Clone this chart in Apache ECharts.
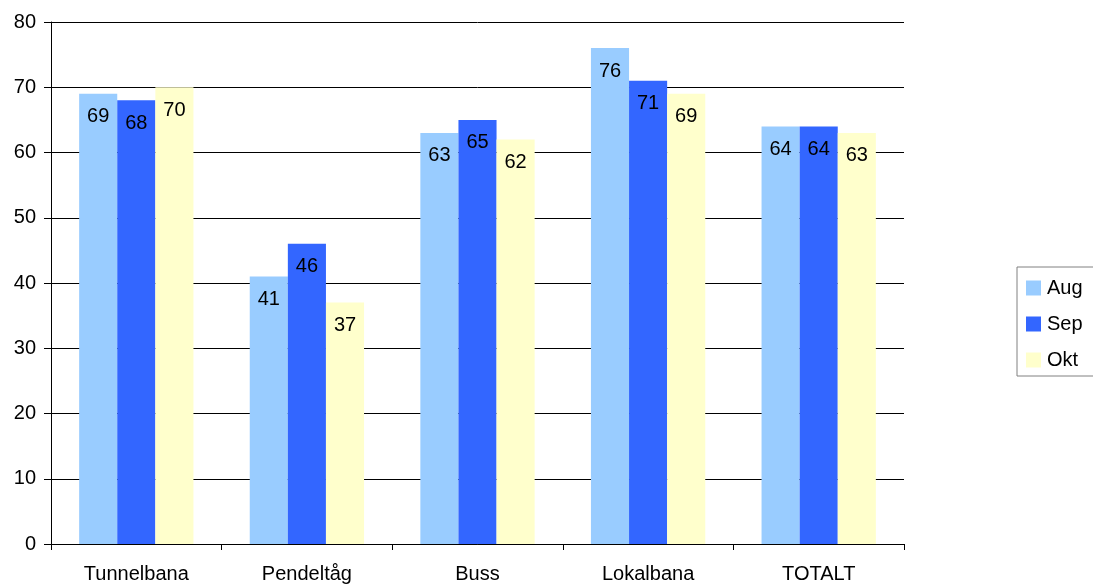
<!DOCTYPE html>
<html>
<head>
<meta charset="utf-8">
<script src="https://cdn.jsdelivr.net/npm/echarts@6/dist/echarts.min.js"></script>
<style>
  html, body { margin: 0; padding: 0; background: #fff; }
  #chart { width: 1093px; height: 585px; }
</style>
</head>
<body>
<div id="chart"></div>
<script>
// data
const categories = ['Tunnelbana', 'Pendeltåg', 'Buss', 'Lokalbana', 'TOTALT'];
const aug = [69, 41, 63, 76, 64];
const sep = [68, 46, 65, 71, 64];
const okt = [70, 37, 62, 69, 63];

const font = 'Liberation Sans, Arial, sans-serif';

const labelStyle = {
  show: true,
  position: 'insideTop',
  distance: 13,
  color: '#000',
  fontSize: 20,
  fontFamily: font
};

const makeSeries = (name, data, color) => ({
  name: name,
  type: 'bar',
  data: data,
  barGap: '0%',
  barCategoryGap: '33%',
  itemStyle: { color: color },
  label: labelStyle
});

const myChart = echarts.init(document.getElementById('chart'));
const option = {
  animation: false,
  textStyle: { fontFamily: font },
  grid: { left: 51, right: 189, top: 22, bottom: 41, containLabel: false },
  legend: {
    orient: 'vertical',
    left: 1017,
    top: 267,
    padding: [11, 40, 6, 9],
    itemGap: 16,
    itemWidth: 15,
    itemHeight: 15,
    icon: 'rect',
    borderColor: '#808080',
    borderWidth: 1,
    textStyle: { fontSize: 20, color: '#000', padding: [0, 0, 0, 1] },
    data: ['Aug', 'Sep', 'Okt']
  },
  xAxis: {
    type: 'category',
    data: categories,
    axisLine: { lineStyle: { color: '#000', width: 1 } },
    axisTick: { show: true, length: 6, alignWithLabel: false, lineStyle: { color: '#000' } },
    axisLabel: { color: '#000', fontSize: 20, margin: 20 }
  },
  yAxis: {
    type: 'value',
    min: 0,
    max: 80,
    interval: 10,
    axisLine: { show: true, lineStyle: { color: '#000', width: 1 } },
    axisTick: { show: true, length: 7, lineStyle: { color: '#000' } },
    axisLabel: { color: '#000', fontSize: 20, margin: 15 },
    splitLine: { show: true, lineStyle: { color: '#000', width: 1 } }
  },
  series: [
    makeSeries('Aug', aug, '#99CCFF'),
    makeSeries('Sep', sep, '#3366FF'),
    makeSeries('Okt', okt, '#FFFFCC')
  ]
};
myChart.setOption(option);
</script>
</body>
</html>
